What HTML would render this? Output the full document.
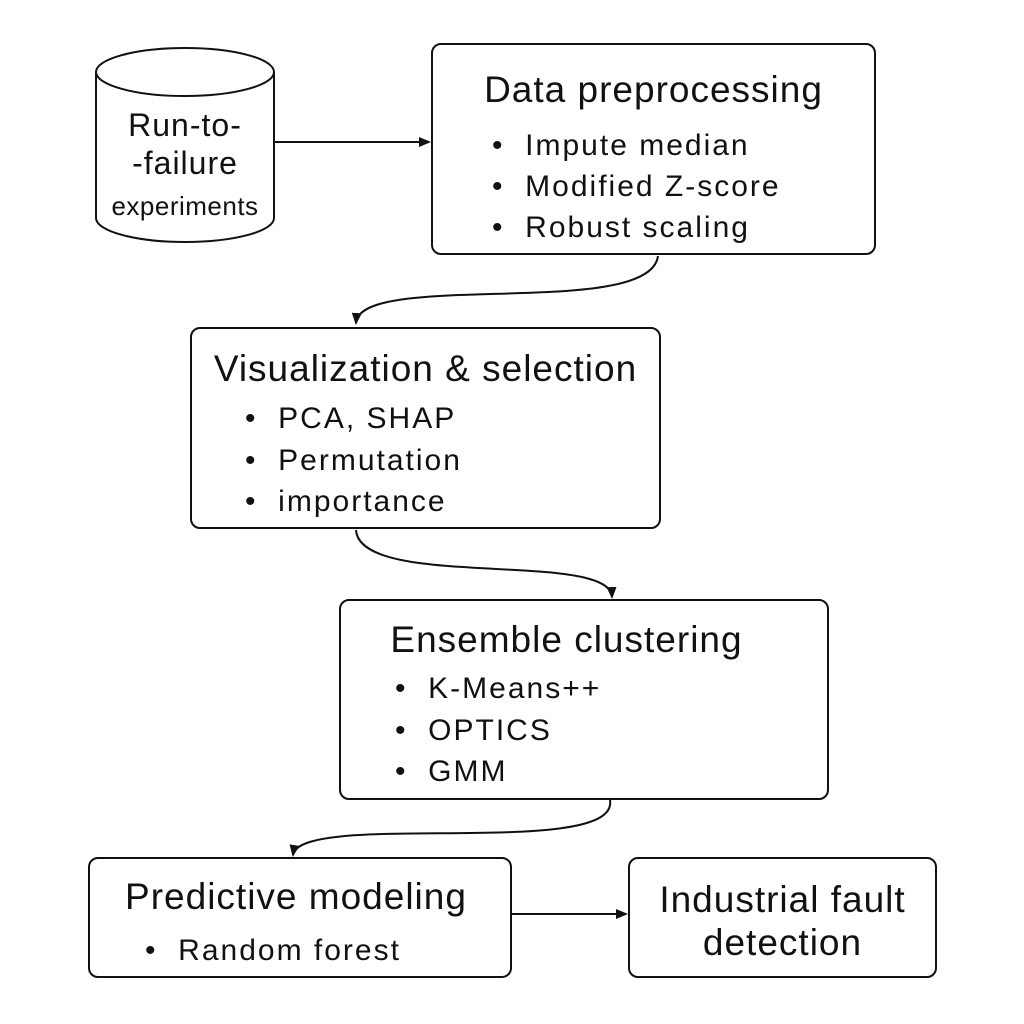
<!DOCTYPE html>
<html><head><meta charset="utf-8"><style>
html,body{margin:0;padding:0;background:#fff;}
body{width:1024px;height:1024px;position:relative;overflow:hidden;font-family:"Liberation Sans",sans-serif;color:#111;}
.box{position:absolute;border:2px solid #111;border-radius:10px;box-sizing:border-box;background:#fff;}
.t{position:absolute;white-space:nowrap;}
.title{font-size:37px;letter-spacing:1px;}
.b{font-size:30px;letter-spacing:2px;}
</style></head><body>
<svg width="1024" height="1024" style="position:absolute;left:0;top:0">
<defs><marker id="a" markerWidth="12" markerHeight="10" refX="10" refY="5" orient="auto" markerUnits="userSpaceOnUse"><path d="M0,0 L12,5 L0,10 z" fill="#111"/></marker></defs>
<g fill="none" stroke="#111" stroke-width="2">
<path d="M96,72 L96,218 A89,24 0 0 0 274,218 L274,72"/>
<ellipse cx="185" cy="72" rx="89" ry="24" fill="#fff"/>
<path d="M275,142 L429,142" marker-end="url(#a)"/>
<path d="M658,256 C650,320 360,270 356,323" marker-end="url(#a)"/>
<path d="M356,530 C360,590 610,550 612,597" marker-end="url(#a)"/>
<path d="M610,800 C620,860 300,810 293,855" marker-end="url(#a)"/>
<path d="M511,914 L626,914" marker-end="url(#a)"/>
</g></svg>
<div class="t" style="left:96px;width:178px;text-align:center;top:107px;font-size:32px;letter-spacing:1px">Run-to-</div>
<div class="t" style="left:96px;width:178px;text-align:center;top:145px;font-size:32px;letter-spacing:1px">-failure</div>
<div class="t" style="left:96px;width:178px;text-align:center;top:191px;font-size:26px;letter-spacing:0.5px">experiments</div>

<div class="box" style="left:431px;top:43px;width:445px;height:212px"></div>
<div class="t title" style="left:431px;width:445px;text-align:center;top:69px">Data preprocessing</div>
<div class="t b" style="left:492px;top:129px">•&nbsp; Impute median</div>
<div class="t b" style="left:492px;top:170px">•&nbsp; Modified Z-score</div>
<div class="t b" style="left:492px;top:211px">•&nbsp; Robust scaling</div>

<div class="box" style="left:190px;top:327px;width:471px;height:202px"></div>
<div class="t title" style="left:190px;width:471px;text-align:center;top:348px">Visualization &amp; selection</div>
<div class="t b" style="left:245px;top:402px">•&nbsp; PCA, SHAP</div>
<div class="t b" style="left:245px;top:444px">•&nbsp; Permutation</div>
<div class="t b" style="left:245px;top:485px">•&nbsp; importance</div>

<div class="box" style="left:339px;top:599px;width:490px;height:201px"></div>
<div class="t title" style="left:339px;width:455px;text-align:center;top:619px">Ensemble clustering</div>
<div class="t b" style="left:395px;top:672px">•&nbsp; K-Means++</div>
<div class="t b" style="left:395px;top:714px">•&nbsp; OPTICS</div>
<div class="t b" style="left:395px;top:755px">•&nbsp; GMM</div>

<div class="box" style="left:88px;top:857px;width:424px;height:121px"></div>
<div class="t title" style="left:88px;width:416px;text-align:center;top:876px">Predictive modeling</div>
<div class="t b" style="left:145px;top:934px">•&nbsp; Random forest</div>

<div class="box" style="left:628px;top:857px;width:309px;height:121px"></div>
<div class="t title" style="left:628px;width:309px;text-align:center;top:879px">Industrial fault</div>
<div class="t title" style="left:628px;width:309px;text-align:center;top:922px">detection</div>
</body></html>
